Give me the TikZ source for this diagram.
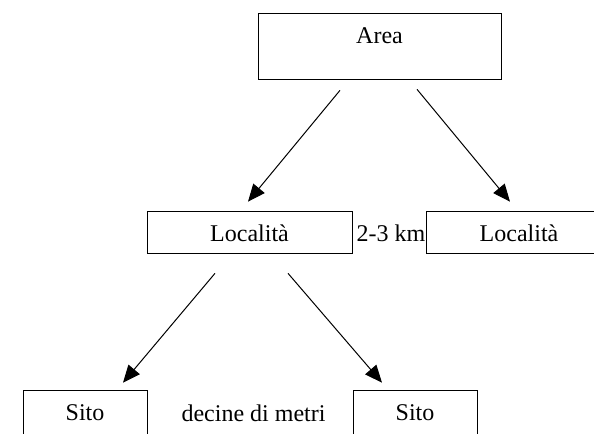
\documentclass[tikz,border=0pt]{standalone}
\usepackage{fontspec}
\setmainfont{Liberation Serif}
\usetikzlibrary{arrows.meta}

\begin{document}
\begin{tikzpicture}[x=0.75pt, y=-0.75pt,
% Node styles
 box/.style={draw, line width=0.75pt, inner sep=0pt, text height=23pt,
 font=\fontsize{18}{22}\selectfont},
 tall/.style={text depth=27pt},
 low/.style={text depth=9pt},
% Edge styles
 edge/.style={draw, line width=0.75pt, -{Triangle[length=13pt, width=11pt]}},
% Label styles
 label/.style={inner sep=0pt, anchor=base, font=\fontsize{18}{22}\selectfont}
]
\useasboundingbox (0,0) rectangle (594,434);

\node[box, tall, minimum width=182.25pt] (area) at (379.5,46.5) {Area};

\node[box, low, minimum width=153.75pt] (loc1) at (249.5,232.5) {Località};
\node[box, low, minimum width=139.5pt] (loc2) at (519,232.5) {Località};

\node[box, text depth=18pt, minimum width=93pt] (sito1) at (85,417.5) {Sito};
\node[box, text depth=18pt, minimum width=93pt] (sito2) at (415,417.5) {Sito};

\node[label] (km) at (391,242) {2-3 km};
\node[label] (metri) at (253.5,422) {decine di metri};

\draw[edge] ([shift={(-39.5,10)}]area.south) -- ([shift={(-1.5,-9)}]loc1.north);
\draw[edge] ([shift={(37.5,9)}]area.south) -- ([shift={(-9,-9)}]loc2.north);

\draw[edge] ([shift={(-34.5,19)}]loc1.south) -- ([shift={(38,-7)}]sito1.north);
\draw[edge] ([shift={(38.5,19)}]loc1.south) -- ([shift={(-33,-7)}]sito2.north);

\end{tikzpicture}
\end{document}
